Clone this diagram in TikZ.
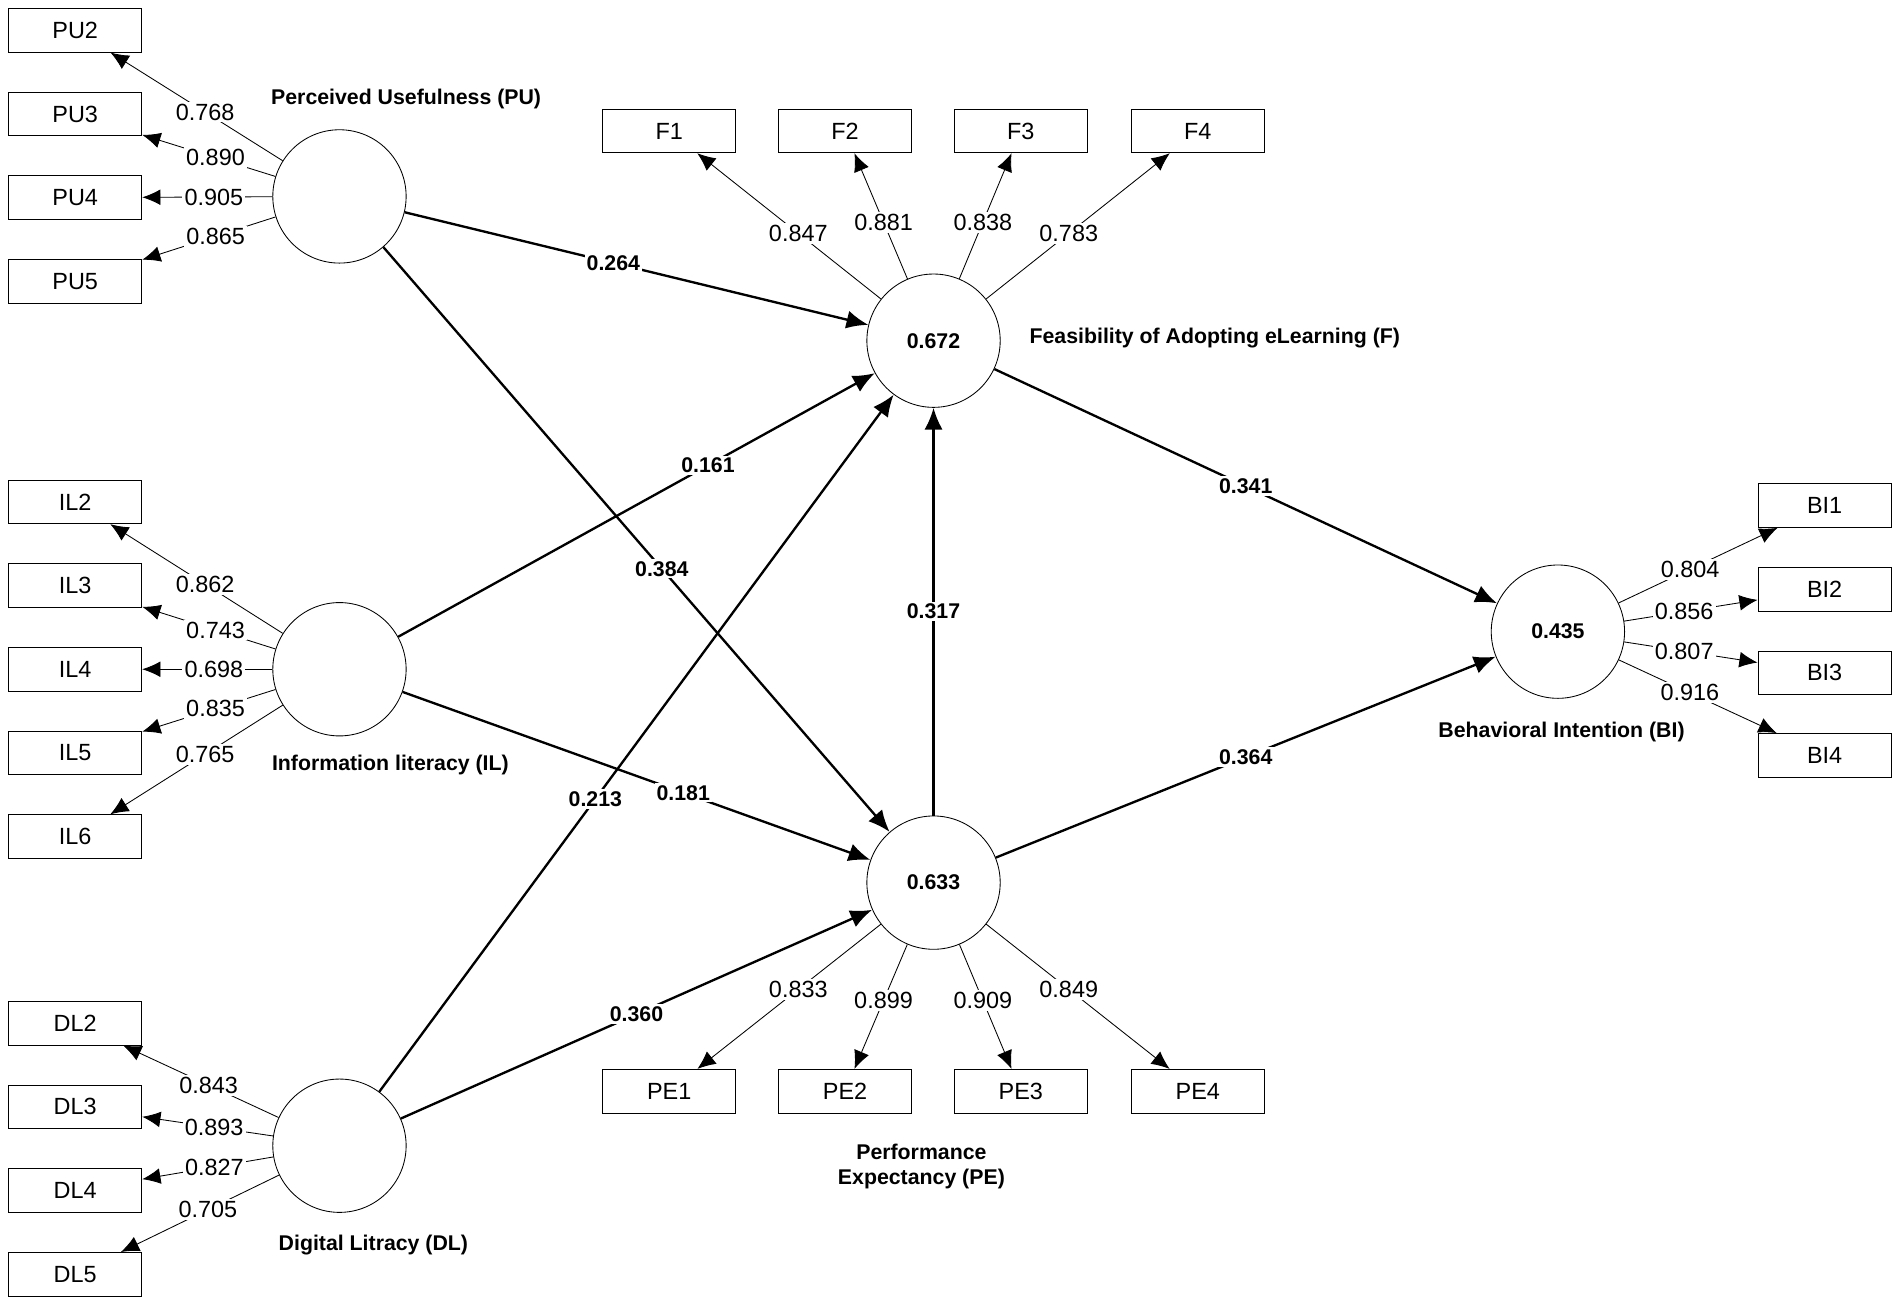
\documentclass[tikz,border=0pt]{standalone}
\usepackage{fontspec}
\setmainfont{Liberation Sans}
\usetikzlibrary{arrows.meta}
\tikzset{
  latent/.style={draw, circle, minimum size=2.2cm, inner sep=0pt, font=\bfseries},
  item/.style={draw, rectangle, minimum width=2.2cm, minimum height=0.72cm, inner sep=0pt},
  load/.style={-{Latex[length=3mm,width=2.6mm]}, thin},
  path/.style={-{Latex[length=3.6mm,width=3mm]}, line width=1.1pt},
  wt/.style={fill=white, inner sep=1pt},
  bwt/.style={fill=white, inner sep=1pt, font=\bfseries},
  title/.style={font=\bfseries, align=center}
}
\begin{document}
\begin{tikzpicture}[x=0.02cm, y=-0.02cm, font=\fontsize{11}{13}\selectfont]
\useasboundingbox (0,0) rectangle (1568,1080);

% latent variables
\node[latent] (PU) at (280,162) {};
\node[latent] (IL) at (280,552) {};
\node[latent] (DL) at (280,945) {};
\node[latent] (F)  at (770,281) {0.672};
\node[latent] (PE) at (770,728) {0.633};
\node[latent] (BI) at (1285,521) {0.435};

\node[title] at (335,82)  {Perceived Usefulness (PU)};
\node[title] at (322,631) {Information literacy (IL)};
\node[title] at (308,1027) {Digital Litracy (DL)};
\node[title] at (1002,279) {Feasibility of Adopting eLearning (F)};
\node[title] at (760,962) {Performance\\Expectancy (PE)};
\node[title] at (1288,604) {Behavioral Intention (BI)};

% indicators
\foreach \n/\y in {PU2/25, PU3/94, PU4/163, PU5/232,
                   IL2/414, IL3/483, IL4/552, IL5/621, IL6/690,
                   DL2/844, DL3/913, DL4/982, DL5/1051}
  \node[item] (\n) at (62,\y) {\n};
\foreach \n/\x in {F1/552, F2/697, F3/842, F4/988}
  \node[item] (\n) at (\x,108) {\n};
\foreach \n/\x in {PE1/552, PE2/697, PE3/842, PE4/988}
  \node[item] (\n) at (\x,900) {\n};
\foreach \n/\y in {BI1/417, BI2/486, BI3/555, BI4/623}
  \node[item] (\n) at (1505,\y) {\n};

% loadings
\foreach \c/\n/\v in {PU/PU2/0.768, PU/PU3/0.890, PU/PU4/0.905, PU/PU5/0.865,
                      IL/IL2/0.862, IL/IL3/0.743, IL/IL4/0.698, IL/IL5/0.835, IL/IL6/0.765,
                      DL/DL2/0.843, DL/DL3/0.893, DL/DL4/0.827, DL/DL5/0.705,
                      F/F1/0.847, F/F2/0.881, F/F3/0.838, F/F4/0.783,
                      PE/PE1/0.833, PE/PE2/0.899, PE/PE3/0.909, PE/PE4/0.849,
                      BI/BI1/0.804, BI/BI2/0.856, BI/BI3/0.807, BI/BI4/0.916}
  \draw[load] (\c) -- node[wt, pos=0.45] {\v} (\n);

% structural paths
\draw[path] (PU) -- node[bwt, pos=0.45] {0.264} (F);
\draw[path] (PU) -- node[bwt, pos=0.55] {0.384} (PE);
\draw[path] (IL) -- node[bwt, pos=0.65] {0.161} (F);
\draw[path] (IL) -- node[bwt, pos=0.6] {0.181} (PE);
\draw[path] (DL) -- node[bwt, pos=0.42] {0.213} (F);
\draw[path] (DL) -- node[bwt, pos=0.5] {0.360} (PE);
\draw[path] (PE) -- node[bwt] {0.317} (F);
\draw[path] (F) -- node[bwt] {0.341} (BI);
\draw[path] (PE) -- node[bwt] {0.364} (BI);
\end{tikzpicture}
\end{document}
